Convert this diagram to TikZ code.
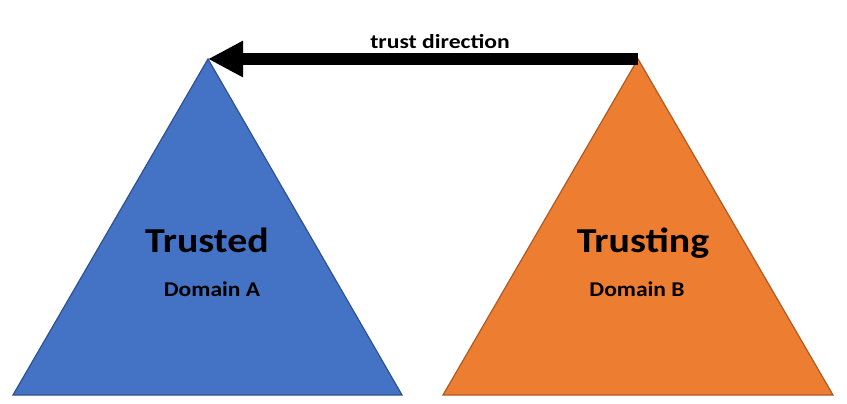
\documentclass[tikz,border=0pt]{standalone}
\usepackage{fontspec}
\setmainfont{Carlito}
\usetikzlibrary{arrows.meta}
\definecolor{tblue}{HTML}{4472C4}
\definecolor{tblueb}{HTML}{2F528F}
\definecolor{torange}{HTML}{ED7D31}
\definecolor{torangeb}{HTML}{AE5A21}
\tikzset{
  tri/.style={line width=1.2pt, line join=miter},
  bigl/.style={font=\fontsize{35}{40}\selectfont\bfseries, inner sep=0pt, anchor=base, xscale=1.14},
  smalll/.style={font=\fontsize{21}{24}\selectfont\bfseries, inner sep=0pt, anchor=base, xscale=1.12},
  arrowl/.style={font=\fontsize{20}{24}\selectfont\bfseries, inner sep=0pt, anchor=base, xscale=1.18},
  trustarrow/.style={line width=12pt, -{Triangle[length=35pt,width=34pt]}}
}
\begin{document}
\begin{tikzpicture}[x=1pt,y=-1pt]
\useasboundingbox (0,0) rectangle (847,404);
\coordinate (A) at (208,59);
\coordinate (AL) at (13,395);
\coordinate (AR) at (402,395);
\coordinate (B) at (638,59);
\coordinate (BL) at (443,395);
\coordinate (BR) at (833,395);
\draw[tri, fill=tblue, draw=tblueb] (A) -- (AR) -- (AL) -- cycle;
\draw[tri, fill=torange, draw=torangeb] (B) -- (BR) -- (BL) -- cycle;
\draw[trustarrow] (B) -- (A);
\node[arrowl] (lbl) at (440,49) {trust direction};
\node[bigl] (ta) at (207,252) {Trusted};
\node[smalll] (da) at (212,296) {Domain A};
\node[bigl] (tb) at (643,252) {Trusting};
\node[smalll] (db) at (637,296) {Domain B};
\end{tikzpicture}
\end{document}
